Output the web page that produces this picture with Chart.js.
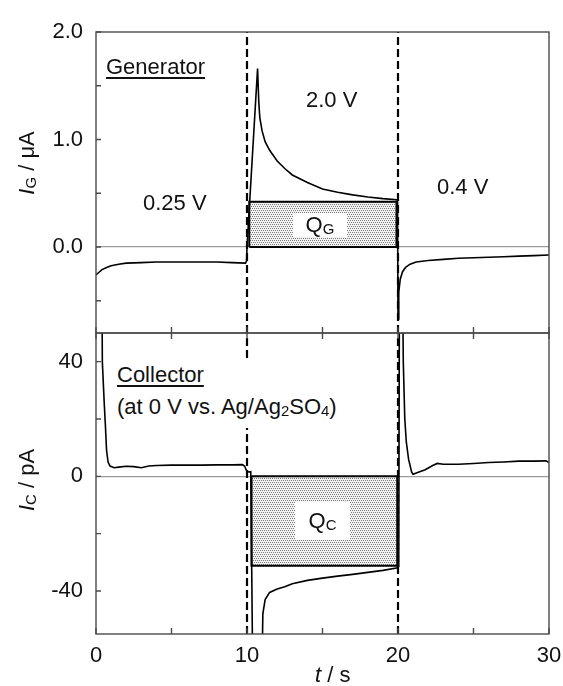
<!DOCTYPE html>
<html>
<head>
<meta charset="utf-8">
<script src="https://cdn.jsdelivr.net/npm/chart.js@4.4.1/dist/chart.umd.min.js"></script>
<style>
  html, body { margin: 0; padding: 0; background: #fff; width: 563px; height: 686px; overflow: hidden;
    font-family: 'Liberation Sans', Arial, sans-serif; }
  canvas { position: absolute; left: 0; }
  #topPanel { top: 0; }
  #bottomPanel { top: 326px; }
  .lbl { position: absolute; font-size: 22px; line-height: 22px; color: #111; white-space: nowrap; }
  .u { text-decoration: underline; text-underline-offset: 3px; text-decoration-thickness: 1.5px; }
  .qbox { background: #fff; text-align: center; }
  .note { position: absolute; left: 113px; top: 358px; width: 232px; height: 70px; background: #fff; }
  sub { font-size: 15px; vertical-align: baseline; position: relative; top: 2px; }
  .ytitle { transform: translate(-50%, -50%) rotate(-90deg); }
</style>
</head>
<body>
<canvas id="topPanel" width="563" height="345"></canvas>
<canvas id="bottomPanel" width="563" height="360"></canvas>

<div class="lbl u" style="left:106px; top:56px">Generator</div>
<div class="lbl" style="left:143px; top:192px">0.25 V</div>
<div class="lbl" style="left:306px; top:89px">2.0 V</div>
<div class="lbl" style="left:437px; top:176px">0.4 V</div>
<div class="lbl qbox" style="left:293px; top:213px; width:54px; height:24px; line-height:24px">Q<sub>G</sub></div>

<div class="note">
  <div class="lbl u" style="left:4px; top:6px">Collector</div>
  <div class="lbl" style="left:4px; top:38px">(at 0 V vs. Ag/Ag<sub>2</sub>SO<sub>4</sub>)</div>
</div>
<div class="lbl qbox" style="left:295px; top:502px; width:55px; height:38px; line-height:38px">Q<sub>C</sub></div>

<div class="lbl ytitle" style="left:28px; top:163px"><i>I</i><sub>G</sub> / μA</div>
<div class="lbl ytitle" style="left:28px; top:480px"><i>I</i><sub>C</sub> / pA</div>
<div class="lbl" style="left:315px; top:664px"><i>t</i> / s</div>

<script>
// generator current (uA) vs time (s)
var timeG = [0, 0.2, 0.4, 0.7, 1.0, 1.5, 2, 3, 4, 5, 6, 7, 8, 9, 9.9, 9.97,
  10.0, 10.7, 10.78, 10.85, 11.0, 11.2, 11.5, 12.0, 12.5, 13, 14, 15, 16, 17, 18, 19, 19.9, 19.97,
  20.0, 20.05, 20.15, 20.3, 20.5, 20.8, 21.2, 22, 23, 24, 25, 26, 27, 28, 29, 30];
var currG = [-0.26, -0.235, -0.21, -0.19, -0.175, -0.16, -0.15, -0.145, -0.14, -0.14, -0.14, -0.14, -0.14, -0.145, -0.15, -0.13,
  0.0, 1.66, 1.35, 1.2, 1.08, 0.98, 0.9, 0.8, 0.73, 0.67, 0.6, 0.54, 0.51, 0.485, 0.465, 0.45, 0.44, 0.43,
  -0.67, -0.42, -0.3, -0.23, -0.19, -0.16, -0.14, -0.125, -0.115, -0.105, -0.1, -0.095, -0.09, -0.085, -0.08, -0.075];

// collector current (pA) vs time (s); +/-80 = off scale
var timeC = [0, 0.38, 0.42, 0.55, 0.62, 0.7, 0.8, 0.93, 1.2, 1.5, 2, 2.5, 3, 3.5, 4, 5, 6, 7, 8, 9, 9.7, 9.85, 9.95, 10.1, 10.25,
  10.4, 10.95, 11.05, 11.2, 11.5, 12, 12.5, 13, 14, 15, 16, 17, 18, 19, 19.9, 20.05,
  20.1, 20.28, 20.35, 20.45, 20.55, 20.7, 20.9, 21.0, 21.3, 21.8, 22.3, 22.6, 23, 24, 25, 26, 27, 28, 29, 29.8, 30];
var currC = [80, 80, 40, 25, 18, 9, 5, 3.6, 3.0, 3.2, 3.5, 3.4, 3.0, 3.6, 3.8, 3.9, 3.9, 3.9, 4.0, 4.0, 4.1, 3.5, 2.2, 1.5, 1.6,
  -80, -80, -48, -43, -40.5, -39.3, -38.5, -37.5, -36.3, -35.5, -34.8, -34.2, -33.5, -32.8, -32.0, -31.5,
  80, 80, 40, 20, 12, 6, 1.5, 0.7, 1.3, 2.3, 3.8, 4.5, 4.2, 4.2, 4.5, 4.8, 5.0, 5.3, 5.3, 5.4, 4.8];

var stepTimes = [10, 20];
var qgSpan = [10.15, 19.9];
var qgLevel = 0.42;
var qcSpan = [10.3, 19.95];
var qcLevel = -31.2;

var rangeG = [-0.8, 2.0];
var rangeC = [-55, 50];
var rangeT = [0, 30];

var ticksG = [-0.5, 0, 0.5, 1.0, 1.5, 2.0];
var labelsG = [0, 1, 2];
var ticksC = [-40, -20, 0, 20, 40];
var labelsC = [-40, 0, 40];
var ticksT = [0, 5, 10, 15, 20, 25, 30];
var labelsT = [0, 10, 20, 30];

var frameColor = '#4a4a4a';
var tickFont = { family: "'Liberation Sans', Arial, sans-serif", size: 22 };

function pts(xs, ys) {
  return xs.map(function (x, i) { return { x: x, y: ys[i] }; });
}

function stipple() {
  var c = document.createElement('canvas');
  c.width = 4; c.height = 4;
  var g = c.getContext('2d');
  g.fillStyle = '#f3f3f3';
  g.fillRect(0, 0, 4, 4);
  g.fillStyle = '#7a7a7a';
  g.fillRect(0, 0, 1, 1); g.fillRect(2, 0, 1, 1);
  g.fillRect(1, 2, 1, 1); g.fillRect(3, 2, 1, 1);
  return g.createPattern(c, 'repeat');
}

// frame + inward ticks
function framePlugin(xEdges) {
  return {
    id: 'frame',
    afterDatasetsDraw: function (chart) {
      var ctx = chart.ctx, a = chart.chartArea, sx = chart.scales.x, sy = chart.scales.y;
      ctx.save();
      ctx.strokeStyle = frameColor;
      ctx.lineWidth = 1.4;
      ctx.strokeRect(a.left, a.top, a.right - a.left, a.bottom - a.top);
      ctx.beginPath();
      sy.ticks.forEach(function (t) {
        var y = sy.getPixelForValue(t.value);
        ctx.moveTo(a.left, y); ctx.lineTo(a.left + 5, y);
      });
      ticksT.forEach(function (v) {
        var x = sx.getPixelForValue(v);
        xEdges.forEach(function (e) {
          var y0 = e === 'top' ? a.top : a.bottom;
          var dir = e === 'top' ? 1 : -1;
          ctx.moveTo(x, y0); ctx.lineTo(x, y0 + dir * 6);
        });
      });
      ctx.stroke();
      ctx.restore();
    }
  };
}

function makePanel(id, p) {
  var datasets = [
    { data: pts(p.t, p.i), borderColor: '#000', borderWidth: 1.6 }
  ];
  stepTimes.forEach(function (s) {
    datasets.push({ data: [{ x: s, y: p.range[0] }, { x: s, y: p.range[1] }],
      borderColor: '#000', borderWidth: 2.2, borderDash: [8, 4] });
  });
  datasets.push({
    data: [{ x: p.span[0], y: 0 }, { x: p.span[0], y: p.level }, { x: p.span[1], y: p.level },
      { x: p.span[1], y: 0 }, { x: p.span[0], y: 0 }],
    borderColor: '#000', borderWidth: 2
  });
  datasets.push({
    data: [{ x: p.span[0], y: p.level }, { x: p.span[1], y: p.level }],
    borderWidth: 0, backgroundColor: stipple(), fill: { value: 0 }
  });
  datasets.forEach(function (d) { d.pointRadius = 0; d.tension = 0; if (d.fill === undefined) d.fill = false; });

  return new Chart(document.getElementById(id), {
    type: 'line',
    data: { datasets: datasets },
    options: {
      responsive: false,
      devicePixelRatio: 1,
      animation: false,
      events: [],
      layout: { padding: p.padding },
      plugins: { legend: { display: false }, tooltip: { enabled: false } },
      scales: {
        x: {
          type: 'linear', min: rangeT[0], max: rangeT[1],
          display: p.showX,
          grid: { display: false },
          border: { display: false },
          afterBuildTicks: function (s) { s.ticks = ticksT.map(function (v) { return { value: v }; }); },
          ticks: { font: tickFont, color: '#111', padding: 1, maxRotation: 0, autoSkip: false,
            callback: function (v) { return labelsT.indexOf(v) >= 0 ? String(v) : ''; } },
          afterFit: function (s) { s.height = p.showX ? 52 : 0; s.paddingLeft = 0; s.paddingRight = 0; }
        },
        y: {
          type: 'linear', min: p.range[0], max: p.range[1],
          grid: { drawTicks: false, lineWidth: 1.2,
            color: function (c) { return c.tick && c.tick.value === 0 ? '#9a9a9a' : 'rgba(0,0,0,0)'; } },
          border: { display: false },
          afterBuildTicks: function (s) { s.ticks = p.ticks.map(function (v) { return { value: v }; }); },
          ticks: { font: tickFont, color: '#111', padding: 13, autoSkip: false,
            callback: function (v) { return p.labels.indexOf(v) >= 0 ? p.fmt(v) : ''; } },
          afterFit: function (s) { s.width = 96; s.paddingTop = 0; s.paddingBottom = 0; }
        }
      }
    },
    plugins: [framePlugin(p.xEdges)]
  });
}

makePanel('topPanel', {
  t: timeG, i: currG, range: rangeG, span: qgSpan, level: qgLevel,
  ticks: ticksG, labels: labelsG, fmt: function (v) { return v.toFixed(1); },
  showX: false, xEdges: ['bottom'],
  padding: { top: 32, right: 14, left: 0, bottom: 12 }
});

makePanel('bottomPanel', {
  t: timeC, i: currC, range: rangeC, span: qcSpan, level: qcLevel,
  ticks: ticksC, labels: labelsC, fmt: function (v) { return String(v); },
  showX: true, xEdges: ['top', 'bottom'],
  padding: { top: 7, right: 14, left: 0, bottom: 0 }
});
</script>
</body>
</html>
